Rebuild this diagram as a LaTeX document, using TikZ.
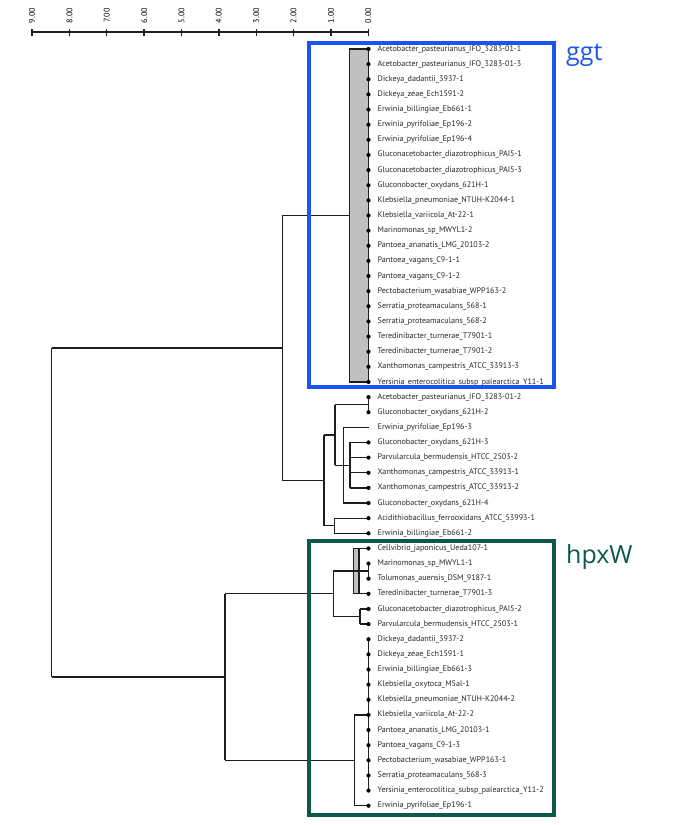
\documentclass[tikz,border=0pt]{standalone}
\usepackage{fontspec}
\setmainfont{PT Sans}
\newfontfamily\headfont{Open Sans}
\definecolor{ggtblue}{RGB}{25,85,240}
\definecolor{hpxgreen}{RGB}{12,88,74}
\definecolor{treeline}{RGB}{30,30,30}
\definecolor{clade}{RGB}{192,192,192}
\tikzset{
  branch/.style={draw=treeline, line width=1.3pt},
  leaflabel/.style={anchor=west, inner sep=0pt, font=\fontsize{8.1}{9}\selectfont, text=black!85},
  ticklabel/.style={rotate=90, inner sep=0pt, font=\fontsize{8.2}{9}\selectfont},
  tipdot/.style={fill=black, circle, inner sep=0pt, minimum size=4.2pt},
  cladebox/.style={line width=4pt},
  boxtitle/.style={anchor=base west, inner sep=0pt, font=\headfont\fontsize{25}{28}\selectfont}
}
\newcommand\ly[1]{(49+15.134*(#1))}
\begin{document}
\begin{tikzpicture}[x=1pt,y=-1pt]
\useasboundingbox (0,0) rectangle (685,825);
% scale axis
\draw[branch] (32,32) coordinate (ax0) -- (368.3,32) coordinate (ax1);
\foreach \d in {0,...,9}{
  \draw[branch] ({368.3-37.36*\d},28.5) -- ({368.3-37.36*\d},35.5);
  \node[ticklabel] (t\d) at ({368.3-37.36*\d},15.5) {\d.00};
}
% leaf labels
\foreach \nm [count=\i from 0] in {
Acetobacter\_pasteurianus\_IFO\_3283-01-1,
Acetobacter\_pasteurianus\_IFO\_3283-01-3,
Dickeya\_dadantii\_3937-1,
Dickeya\_zeae\_Ech1591-2,
Erwinia\_billingiae\_Eb661-1,
Erwinia\_pyrifoliae\_Ep196-2,
Erwinia\_pyrifoliae\_Ep196-4,
Gluconacetobacter\_diazotrophicus\_PAI5-1,
Gluconacetobacter\_diazotrophicus\_PAI5-3,
Gluconobacter\_oxydans\_621H-1,
Klebsiella\_pneumoniae\_NTUH-K2044-1,
Klebsiella\_variicola\_At-22-1,
Marinomonas\_sp\_MWYL1-2,
Pantoea\_ananatis\_LMG\_20103-2,
Pantoea\_vagans\_C9-1-1,
Pantoea\_vagans\_C9-1-2,
Pectobacterium\_wasabiae\_WPP163-2,
Serratia\_proteamaculans\_568-1,
Serratia\_proteamaculans\_568-2,
Teredinibacter\_turnerae\_T7901-1,
Teredinibacter\_turnerae\_T7901-2,
Xanthomonas\_campestris\_ATCC\_33913-3,
Yersinia\_enterocolitica\_subsp\_palearctica\_Y11-1,
Acetobacter\_pasteurianus\_IFO\_3283-01-2,
Gluconobacter\_oxydans\_621H-2,
Erwinia\_pyrifoliae\_Ep196-3,
Gluconobacter\_oxydans\_621H-3,
Parvularcula\_bermudensis\_HTCC\_2503-2,
Xanthomonas\_campestris\_ATCC\_33913-1,
Xanthomonas\_campestris\_ATCC\_33913-2,
Gluconobacter\_oxydans\_621H-4,
Acidithiobacillus\_ferrooxidans\_ATCC\_53993-1,
Erwinia\_billingiae\_Eb661-2,
Cellvibrio\_japonicus\_Ueda107-1,
Marinomonas\_sp\_MWYL1-1,
Tolumonas\_auensis\_DSM\_9187-1,
Teredinibacter\_turnerae\_T7901-3,
Gluconacetobacter\_diazotrophicus\_PAI5-2,
Parvularcula\_bermudensis\_HTCC\_2503-1,
Dickeya\_dadantii\_3937-2,
Dickeya\_zeae\_Ech1591-1,
Erwinia\_billingiae\_Eb661-3,
Klebsiella\_oxytoca\_M5al-1,
Klebsiella\_pneumoniae\_NTUH-K2044-2,
Klebsiella\_variicola\_At-22-2,
Pantoea\_ananatis\_LMG\_20103-1,
Pantoea\_vagans\_C9-1-3,
Pectobacterium\_wasabiae\_WPP163-1,
Serratia\_proteamaculans\_568-3,
Yersinia\_enterocolitica\_subsp\_palearctica\_Y11-2,
Erwinia\_pyrifoliae\_Ep196-1}{
  \coordinate (tip\i) at (368.5,{\ly{\i}});
  \node[leaflabel] (lab\i) at (377.5,{\ly{\i}}) {\nm};
}
% ---- ggt clade (collapsed) ----
\coordinate (nG) at (349.3,{\ly{11}});
\filldraw[branch, fill=clade] (349.3,{\ly{0}}) rectangle (tip22);
% ---- middle clades ----
\coordinate (nA) at (335,{\ly{23.5}});
\coordinate (nB) at (343.3,{\ly{27.5}});
\coordinate (nC) at (350,{\ly{27.5}});
\coordinate (nD) at (324,{\ly{25.5}});
\coordinate (nE) at (334.3,{\ly{31.5}});
\coordinate (nF) at (324,{\ly{28.5}});
\coordinate (nH) at (282.7,{\ly{19.75}});
\coordinate (root) at (51.7,{\ly{19.75}});
\path[branch] (tip23) -- (tip24);
\path[branch] (nA) -- (368.5,{\ly{23.5}});
\path[branch] (343.3,{\ly{25}}) -- (tip25);
\path[branch] (343.3,{\ly{25}}) -- (343.3,{\ly{30}}) -- (tip30);
\path[branch] (350,{\ly{26}}) -- (350,{\ly{29}});
\foreach \k in {26,...,29}{ \path[branch] (350,{\ly{\k}}) -- (tip\k); }
\path[branch] (nA |- nB) -- (nC);
\path[branch] (nA) -- (nA |- nB);
\path[branch] (nD) -- (nD -| nA);
\path[branch] (334.3,{\ly{31}}) -- (334.3,{\ly{32}});
\path[branch] (334.3,{\ly{31}}) -- (tip31);
\path[branch] (334.3,{\ly{32}}) -- (tip32);
\path[branch] (nE -| nD) -- (nE);
\path[branch] (nD) -- (nE -| nD);
\path[branch] (282.7,{\ly{11}}) -- (nG);
\path[branch] (282.7,{\ly{11}}) -- (282.7,{\ly{28.5}}) -- (nF);
\path[branch] (root) -- (nH);
% ---- hpxW clade ----
\coordinate (nP) at (333.3,{\ly{36}});
\coordinate (nQ) at (225,{\ly{41.5}});
\coordinate (nR) at (354.3,{\ly{47}});
\filldraw[branch, fill=clade] (353.3,{\ly{33}}) rectangle (359,{\ly{36}});
\path[branch] (353.3,{\ly{33}}) -- (tip33);
\path[branch] (353.3,{\ly{36}}) -- (tip36);
\path[branch] (tip34) -- (tip35);
\path[branch] (333.3,{\ly{34.5}}) -- (368.5,{\ly{34.5}});
\path[branch] (360,{\ly{37}}) -- (360,{\ly{38}});
\path[branch] (360,{\ly{37}}) -- (tip37);
\path[branch] (360,{\ly{38}}) -- (tip38);
\path[branch] (333.3,{\ly{37.5}}) -- (360,{\ly{37.5}});
\path[branch] (333.3,{\ly{34.5}}) -- (333.3,{\ly{37.5}});
\path[branch] (225,{\ly{36}}) -- (nP);
\path[branch] (tip39) -- (tip49);
\path[branch] (354.3,{\ly{44}}) -- (tip44);
\path[branch] (354.3,{\ly{44}}) -- (354.3,{\ly{50}}) -- (tip50);
\path[branch] (225,{\ly{47}}) -- (nR);
\path[branch] (225,{\ly{36}}) -- (225,{\ly{47}});
\path[branch] (root |- nQ) -- (nQ);
\path[branch] (root) -- (root |- nQ);
% tip dots
\foreach \i in {0,...,24,26,27,...,50}{ \node[tipdot] (dot\i) at (tip\i) {}; }
% ---- highlight boxes ----
\draw[cladebox, draw=ggtblue] (309,42.7) rectangle (554,387) coordinate (ggtBR);
\node[boxtitle, text=ggtblue] (ggt) at (566,60.5) {ggt};
\draw[cladebox, draw=hpxgreen] (309,541.3) rectangle (554,814.7);
\node[boxtitle, text=hpxgreen] (hpxw) at (566,563.3) {hpxW};
\end{tikzpicture}
\end{document}
